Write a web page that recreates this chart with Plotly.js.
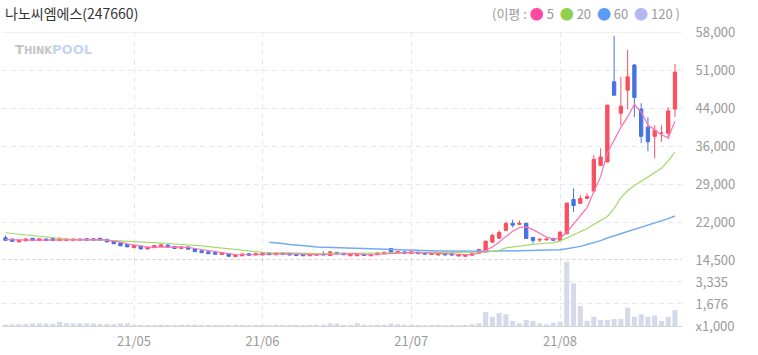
<!DOCTYPE html>
<html>
<head>
<meta charset="utf-8">
<script src="https://cdn.plot.ly/plotly-3.0.1.min.js"></script>
<style>html,body{margin:0;padding:0;background:#fff;}#chart{width:758px;height:355px;}</style>
</head>
<body>
<div id="chart"></div>
<script>
const dates = [
 '2021-04-06','2021-04-07','2021-04-08','2021-04-09','2021-04-12','2021-04-13','2021-04-14','2021-04-15','2021-04-16','2021-04-19',
 '2021-04-20','2021-04-21','2021-04-22','2021-04-23','2021-04-26','2021-04-27','2021-04-28','2021-04-29','2021-04-30',
 '2021-05-03','2021-05-04','2021-05-06','2021-05-07','2021-05-10','2021-05-11','2021-05-12','2021-05-13','2021-05-14','2021-05-17',
 '2021-05-18','2021-05-20','2021-05-21','2021-05-24','2021-05-25','2021-05-26','2021-05-27','2021-05-28','2021-05-31',
 '2021-06-01','2021-06-02','2021-06-03','2021-06-04','2021-06-07','2021-06-08','2021-06-09','2021-06-10','2021-06-11','2021-06-14',
 '2021-06-15','2021-06-16','2021-06-17','2021-06-18','2021-06-21','2021-06-22','2021-06-23','2021-06-24','2021-06-25','2021-06-28',
 '2021-06-29','2021-06-30',
 '2021-07-01','2021-07-02','2021-07-05','2021-07-06','2021-07-07','2021-07-08','2021-07-09','2021-07-12','2021-07-13','2021-07-14',
 '2021-07-15','2021-07-16','2021-07-19','2021-07-20','2021-07-21','2021-07-22','2021-07-23','2021-07-26','2021-07-27','2021-07-28',
 '2021-07-29','2021-07-30',
 '2021-08-02','2021-08-03','2021-08-04','2021-08-05','2021-08-06','2021-08-09','2021-08-10','2021-08-11','2021-08-12','2021-08-13',
 '2021-08-17','2021-08-18','2021-08-19','2021-08-20','2021-08-23','2021-08-24','2021-08-25','2021-08-26'
];

const open = [
 18750,18500,17950,18150,18650,18200,18500,18600,18200,18200,18250,18250,18550,18550,18650,18450,18100,17750,17450,
 16850,17150,16600,16850,17050,17350,17100,16700,17000,16650,16250,16050,15900,15550,15700,15150,15300,15700,15450,
 15450,15850,15500,15850,15800,15650,15600,15300,15400,15750,15350,15950,15800,15300,15300,15650,15300,15500,15700,16700,15850,16050,
 15750,16000,15900,15550,15450,15750,15700,15250,15200,15400,15800,16000,17900,18650,20150,21500,21300,21500,18800,18300,18350,18600,
 18250,19500,26050,25300,26250,27650,32550,33200,48500,42500,46900,51700,43300,39850,38100,38650,38700,43300
];
const high = [
 19200,18550,18350,18700,18700,18600,18550,18650,18900,18600,18550,18550,18600,18650,18700,18500,18150,17800,17500,
 17350,17200,17000,17350,17500,17450,17150,17100,17050,16700,16350,16100,16000,15950,15750,15550,15750,15850,15900,
 15950,15900,15900,15900,15850,15700,15650,15650,15750,16200,16250,16000,15850,15700,15600,15700,15650,15950,16050,16750,16200,16100,
 16150,16050,15950,15900,15800,15800,15750,15600,15550,15750,16600,18200,19500,20150,21850,22200,22050,21550,18900,18600,18600,18700,
 20000,25450,28150,26850,27200,34500,35800,44100,57250,49450,54550,51900,44400,41750,40200,40200,43650,51900
];
const low = [
 18200,18000,17900,18100,18150,18150,18150,18150,18150,18150,18200,18200,18200,18200,18200,17900,17550,17150,16950,
 16800,16550,16550,16800,17000,16900,16650,16650,16500,16050,15850,15650,15550,15500,15150,15100,15250,15350,15400,
 15400,15450,15450,15500,15400,15250,15250,15250,15350,15400,15300,15600,15450,15250,15250,15300,15250,15450,15650,15950,15800,15700,
 15700,15650,15550,15500,15400,15400,15250,15200,15150,15350,15750,15950,17800,18600,20050,20700,21250,18550,17700,17900,18200,18200,
 18200,19400,23650,25200,26100,27600,32500,33150,45900,40200,43250,41800,36800,35250,33900,37050,37550,41800
];
const close = [
 18250,18050,18300,18500,18200,18550,18200,18200,18550,18500,18500,18500,18250,18250,18250,17950,17600,17200,17000,
 17250,16600,16900,17250,17400,16950,16700,17000,16550,16100,15900,15700,15600,15850,15200,15450,15650,15400,15750,
 15850,15500,15850,15550,15450,15350,15300,15600,15700,15450,16050,15650,15500,15600,15550,15350,15600,15850,16000,16000,16150,15750,
 16050,15700,15600,15850,15750,15450,15450,15550,15500,15700,16500,18100,19200,19750,21450,21150,21500,18600,18200,18450,18500,18250,
 19800,25350,24900,26250,26600,33700,34150,44050,45950,43850,49450,45500,38100,37050,39250,38700,42950,50350
];
const volume = [
 120,130,150,160,210,220,200,180,330,230,220,220,210,200,160,180,150,220,210,
 100,110,90,100,120,100,90,110,100,120,110,90,100,90,100,110,100,90,100,
 100,90,100,110,100,90,100,100,110,120,220,200,90,110,220,110,100,120,110,200,150,120,
 110,90,80,90,100,90,100,80,90,150,220,1073,718,997,899,394,220,470,394,220,145,270,
 340,4865,3237,1525,394,718,470,470,545,545,1397,718,899,718,793,394,718,1223
];
const ma5 = [
 18400,18350,18300,18250,18300,18300,18320,18330,18360,18380,18380,18400,18390,18380,18370,18300,18150,17900,17600,
 17350,17100,16950,16950,17000,17050,17000,16950,16900,16700,16500,16250,16000,15850,15700,15550,15500,15450,15500,
 15600,15650,15700,15700,15650,15600,15550,15500,15500,15500,15600,15650,15700,15700,15650,15550,15500,15550,15650,15800,15850,15900,
 15950,15900,15850,15800,15750,15700,15600,15550,15480,15500,15800,16300,17000,17900,19000,20000,20700,20800,20300,19600,18900,18500,
 18650,19800,21400,22900,24500,27500,30400,34900,37400,39800,41800,44200,42700,40300,39300,38400,37800,41000
];
const ma20 = [
 19700,19550,19420,19300,19150,19000,18850,18700,18550,18480,18440,18420,18400,18390,18380,18300,18220,18150,18100,
 18050,17950,17850,17780,17720,17650,17580,17500,17450,17350,17200,17050,16900,16750,16600,16450,16300,16150,16050,
 15980,15920,15870,15830,15800,15780,15760,15750,15740,15740,15750,15760,15770,15780,15790,15800,15810,15820,15840,15860,15880,15890,
 15900,15910,15920,15930,15930,15920,15910,15900,15890,15880,15900,16000,16150,16350,16800,17000,17200,17350,17480,17600,17700,17800,
 18100,18700,19300,19900,20500,21300,22000,22800,24300,26400,27700,28700,29500,30300,31100,32000,33400,35100
];
const ma60Dates = dates.slice(39);
const ma60 = [
 17900,17800,17650,17450,17300,17200,17100,17000,16950,16900,16850,16800,16750,16700,16650,16620,16580,16540,16500,16450,16400,
 16350,16320,16280,16250,16220,16200,16180,16160,16140,16130,16130,16150,16180,16200,16230,16260,16300,16320,16340,16360,16380,16400,
 16450,16650,16850,17100,17450,17800,18200,18700,19100,19500,19900,20300,20700,21100,21500,21900,22400,22900
];
const monthTicks = ['2021-05-03','2021-06-01','2021-07-01','2021-08-02'];
const monthLabels = ['21/05','21/06','21/07','21/08'];
const priceTickVals = [14500,21750,29000,36250,43500,50750,58000];
const priceTickText = ['14,500','22,000','29,000','36,000','44,000','51,000','58,000'];
const volTickVals = [17,1676,3335];
const volTickText = ['x1,000','1,676','3,335'];

const RED = '#f7505f', BLUE = '#4572e5';
const traces = [
 {type:'scatter', mode:'lines', x:ma60Dates, y:ma60, xaxis:'x', yaxis:'y', line:{color:'#72aaf5', width:1.5}, hoverinfo:'skip'},
 {type:'scatter', mode:'lines', x:dates, y:ma20, xaxis:'x', yaxis:'y', line:{color:'#a3db6e', width:1.2}, hoverinfo:'skip'},
 {type:'scatter', mode:'lines', x:dates, y:ma5, xaxis:'x', yaxis:'y', line:{color:'#ff6fb6', width:1.2}, hoverinfo:'skip'},
 {type:'candlestick', x:dates, open:open, high:high, low:low, close:close, xaxis:'x', yaxis:'y',
  increasing:{line:{color:RED,width:1}, fillcolor:RED},
  decreasing:{line:{color:BLUE,width:1}, fillcolor:BLUE},
  whiskerwidth:0, hoverinfo:'skip'},
 {type:'bar', x:dates, y:volume, xaxis:'x', yaxis:'y2', marker:{color:'#d5d9e9'}, hoverinfo:'skip'}
];

const gridC = '#e8e8e8';
const layout = {
 width:758, height:355,
 margin:{l:2, r:76, t:32, b:29},
 paper_bgcolor:'#ffffff', plot_bgcolor:'#ffffff',
 showlegend:false, bargap:0.25,
 font:{family:'"Noto Sans CJK KR", "Noto Sans", sans-serif', size:13, color:'#9a9a9a'},
 xaxis:{type:'category', categoryorder:'array', categoryarray:dates, range:[-0.52, 100.04], anchor:'y2',
  tickmode:'array', tickvals:monthTicks, ticktext:monthLabels,
  showgrid:true, gridcolor:gridC, griddash:'5px,4px', gridwidth:1, showline:true, linecolor:'#d4d4d4', linewidth:1,
  ticks:'outside', ticklen:3, tickcolor:'rgba(0,0,0,0)', rangeslider:{visible:false}, zeroline:false, fixedrange:true,
  tickfont:{size:13, color:'#9a9a9a'}},
 yaxis:{domain:[0.2245,1], range:[14500,58000], side:'right', tickmode:'array', tickvals:priceTickVals, ticktext:priceTickText,
  showgrid:true, gridcolor:gridC, griddash:'5px,4px', ticks:'outside', ticklen:10, tickcolor:'rgba(0,0,0,0)', zeroline:false,
  tickfont:{size:13, color:'#9a9a9a'}, fixedrange:true},
 yaxis2:{domain:[0,0.2245], range:[17,4994], side:'right', tickmode:'array', tickvals:volTickVals, ticktext:volTickText,
  showgrid:true, gridcolor:gridC, griddash:'5px,4px', ticks:'outside', ticklen:10, tickcolor:'rgba(0,0,0,0)', zeroline:false,
  tickfont:{size:13, color:'#9a9a9a'}, fixedrange:true},
 shapes:[
  {type:'line', xref:'paper', x0:0, x1:1, yref:'y', y0:58000, y1:58000, line:{color:'#e2e2e2', width:1}},
  {type:'line', xref:'paper', x0:0, x1:1, yref:'y', y0:14500, y1:14500, line:{color:'#b4b4b4', width:1, dash:'4px,2px'}}
 ],
 annotations:[
  {xref:'paper', yref:'paper', x:0.0015, y:1.0646, xanchor:'left', yanchor:'middle', showarrow:false,
   text:'나노씨엠에스(247660)', font:{size:14, color:'#333333'}},
  {xref:'paper', yref:'paper', x:1, y:1.0646, xanchor:'right', yanchor:'middle', showarrow:false,
   text:'(이평 : <span style="color:#ff4aa2;font-size:14px">●</span> 5  <span style="color:#8fd14f;font-size:14px">●</span> 20  <span style="color:#5b9cf6;font-size:14px">●</span> 60  <span style="color:#b4b7f2;font-size:14px">●</span> 120 )',
   font:{size:13, color:'#9a9a9a'}},
  {xref:'paper', yref:'paper', x:0.016, y:0.9388, xanchor:'left', yanchor:'middle', showarrow:false,
   text:'<b>T<span style="font-size:10px">HINK</span></b><b><span style="color:#c6d4f0">POOL</span></b>',
   font:{family:'"DejaVu Sans", sans-serif', size:13, color:'#c4c4c4'}}
 ]
};
Plotly.newPlot('chart', traces, layout, {staticPlot:true, displayModeBar:false});
</script>
</body>
</html>
